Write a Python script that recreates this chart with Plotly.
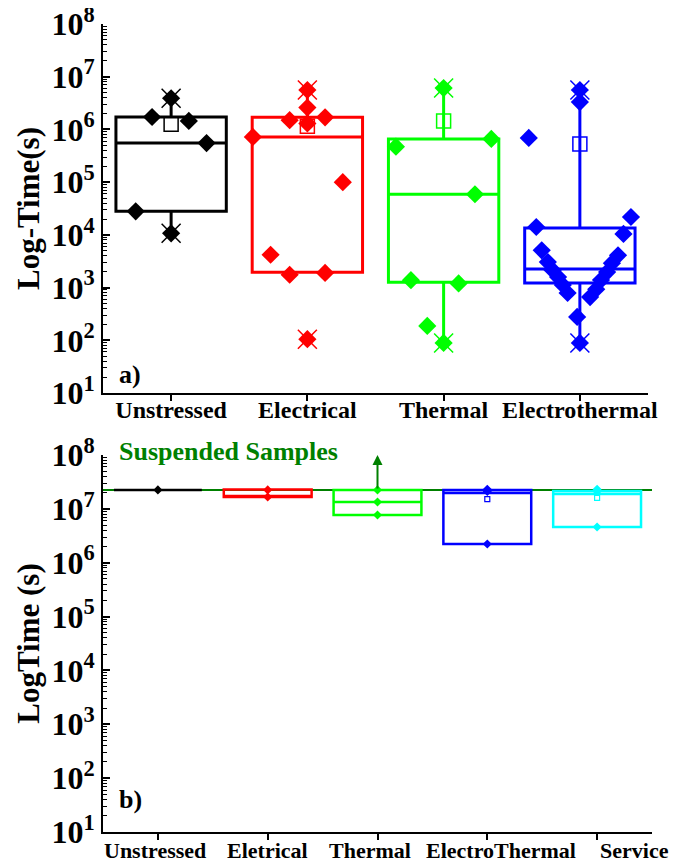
import math
import plotly.graph_objects as go

# ---------------- data: panel a) ----------------
TOP_CATEGORIES = ["Unstressed", "Electrical", "Thermal", "Electrothermal"]
TOP_COLORS = ["#000000", "#FF0000", "#00FF00", "#0000FF"]

unstressed_vals = [3.9e6, 1.72e6, 1.45e6, 5.5e5, 2.8e4, 1.07e4]
unstressed_offsets = [0, -0.14, 0.13, 0.26, -0.26, 0]

electrical_vals = [5.6e6, 2.6e6, 1.7e6, 1.5e6, 1.3e6, 7.2e5, 1.0e5, 4.2e3, 1.9e3, 1.75e3, 105]
electrical_offsets = [0, 0, 0.13, -0.13, 0, -0.40, 0.26, -0.27, 0.13, -0.13, 0]

thermal_vals = [6.1e6, 6.6e5, 4.7e5, 5.9e4, 1.38e3, 1.2e3, 187, 89]
thermal_offsets = [0, 0.35, -0.35, 0.23, -0.24, 0.11, -0.12, 0]

electrothermal_vals = [5.6e6, 3.3e6, 6.9e5, 2.18e4, 1.41e4, 1.04e4, 5.1e3,
                       3.05e3, 2.14e3, 1.58e3, 1.12e3, 7.9e2,
                       4.1e3, 2.9e3, 1.97e3, 1.39e3, 9.3e2, 6.6e2,
                       2.77e2, 89]
electrothermal_offsets = [0, 0, -0.375, 0.375, -0.32, 0.32, -0.28,
                          -0.235, -0.20, -0.16, -0.125, -0.09,
                          0.28, 0.235, 0.20, 0.155, 0.12, 0.075,
                          -0.02, 0]

top_q1 = [2.8e4, 1.95e3, 1.26e3, 1.22e3]
top_median = [5.5e5, 7.2e5, 5.9e4, 2.25e3]
top_q3 = [1.72e6, 1.7e6, 6.6e5, 1.35e4]
top_lower = [1.07e4, 1.95e3, 89, 89]
top_upper = [3.9e6, 5.6e6, 6.1e6, 5.6e6]
top_mean = [1.26e6, 1.15e6, 1.45e6, 5.3e5]
top_min = [1.07e4, 105, 89, 89]
top_max = [3.9e6, 5.6e6, 6.1e6, 5.6e6]

# ---------------- data: panel b) ----------------
BOTTOM_CATEGORIES = ["Unstressed", "Eletrical", "Thermal", "ElectroThermal", "Service"]
BOTTOM_COLORS = ["#000000", "#FF0000", "#00FF00", "#0000FF", "#00FFFF"]

bot_points = [
    [2.25e7],
    [2.25e7, 1.66e7],
    [2.25e7, 1.34e7, 7.7e6],
    [2.3e7, 2.1e7, 2.23e6],
    [2.3e7, 2.1e7, 4.6e6],
]
bot_q1 = [2.25e7, 1.66e7, 7.7e6, 2.23e6, 4.6e6]
bot_median = [2.25e7, 1.66e7, 1.34e7, 1.97e7, 1.89e7]
bot_q3 = [2.25e7, 2.28e7, 2.25e7, 2.24e7, 2.15e7]
bot_lower = [2.25e7, 1.66e7, 7.7e6, 2.23e6, 4.6e6]
bot_upper = [2.25e7, 2.28e7, 2.25e7, 2.3e7, 2.3e7]
bot_mean = [None, None, None, 1.52e7, 1.6e7]

SUSPENDED = 2.25e7
ARROW_TOP = 1e8

Y_EXPONENTS = [1, 2, 3, 4, 5, 6, 7, 8]
Y_TICKVALS = [10 ** e for e in Y_EXPONENTS]
Y_TICKTEXT = ["10<sup>%d</sup>" % e for e in Y_EXPONENTS]

# ---------------- styling ----------------
SERIF = "Liberation Serif"
BOTTOM_LABEL_XSHIFT = [-3, 0, -8, 14, 37]   # px, as the labels are staggered in the original

fig = go.Figure()

top_vals = [unstressed_vals, electrical_vals, thermal_vals, electrothermal_vals]
top_offs = [unstressed_offsets, electrical_offsets, thermal_offsets, electrothermal_offsets]

for i, cat in enumerate(TOP_CATEGORIES):
    pos = i + 1
    c = TOP_COLORS[i]
    fig.add_trace(go.Box(
        x=[pos], q1=[top_q1[i]], median=[top_median[i]], q3=[top_q3[i]],
        lowerfence=[top_lower[i]], upperfence=[top_upper[i]],
        width=0.81, whiskerwidth=0, boxpoints=False,
        line=dict(color=c, width=3), fillcolor="rgba(0,0,0,0)",
        xaxis="x", yaxis="y", showlegend=False, name=cat))
    fig.add_trace(go.Scatter(
        x=[pos + o for o in top_offs[i]], y=top_vals[i], mode="markers",
        marker=dict(symbol="diamond", size=14, color=c, line=dict(width=0)),
        xaxis="x", yaxis="y", showlegend=False, cliponaxis=False))
    fig.add_trace(go.Scatter(
        x=[pos, pos], y=[top_min[i], top_max[i]], mode="markers",
        marker=dict(symbol="x-thin-open", size=19, color=c, line=dict(width=1.5, color=c)),
        xaxis="x", yaxis="y", showlegend=False, cliponaxis=False))
    fig.add_trace(go.Scatter(
        x=[pos], y=[top_mean[i]], mode="markers",
        marker=dict(symbol="square-open", size=14, color=c, line=dict(width=1.5, color=c)),
        xaxis="x", yaxis="y", showlegend=False, cliponaxis=False))

for i, cat in enumerate(BOTTOM_CATEGORIES):
    pos = i + 1
    c = BOTTOM_COLORS[i]
    fig.add_trace(go.Box(
        x=[pos], q1=[bot_q1[i]], median=[bot_median[i]], q3=[bot_q3[i]],
        lowerfence=[bot_lower[i]], upperfence=[bot_upper[i]],
        width=0.8, whiskerwidth=0, boxpoints=False,
        line=dict(color=c, width=2.5), fillcolor="rgba(0,0,0,0)",
        xaxis="x2", yaxis="y2", showlegend=False, name=cat))
    fig.add_trace(go.Scatter(
        x=[pos] * len(bot_points[i]), y=bot_points[i], mode="markers",
        marker=dict(symbol="diamond", size=7, color=c, line=dict(width=0)),
        xaxis="x2", yaxis="y2", showlegend=False, cliponaxis=False))
    if bot_mean[i] is not None:
        fig.add_trace(go.Scatter(
            x=[pos], y=[bot_mean[i]], mode="markers",
            marker=dict(symbol="square-open", size=5, color=c, line=dict(width=1.2, color=c)),
            xaxis="x2", yaxis="y2", showlegend=False, cliponaxis=False))
    # category label under the axis (staggered like the original)
    fig.add_annotation(text=cat, xref="x2", yref="y2 domain", x=pos, y=0,
                       xshift=BOTTOM_LABEL_XSHIFT[i], yshift=-18,
                       xanchor="center", yanchor="middle", showarrow=False,
                       font=dict(family=SERIF, size=22, color="black", weight="bold"))

# suspended samples reference line
fig.add_shape(type="line", xref="x2 domain", x0=0, x1=1, yref="y2",
              y0=SUSPENDED, y1=SUSPENDED, line=dict(color="#008000", width=2), layer="below")

# arrow on thermal suspended sample
fig.add_annotation(x=3, y=math.log10(ARROW_TOP), ax=3, ay=math.log10(SUSPENDED),
                   xref="x2", yref="y2", axref="x2", ayref="y2", text="",
                   showarrow=True, arrowhead=2, arrowsize=1, arrowwidth=2,
                   arrowcolor="#008000")

fig.add_annotation(text="Suspended Samples", xref="x2 domain", yref="y2 domain",
                   x=0.026, y=1.008, xanchor="left", yanchor="middle", showarrow=False,
                   font=dict(family=SERIF, size=26, color="#008000", weight="bold"))
fig.add_annotation(text="a)", xref="x domain", yref="y domain", x=0.025, y=0.05,
                   xanchor="left", yanchor="middle", showarrow=False,
                   font=dict(family=SERIF, size=26, color="black", weight="bold"))
fig.add_annotation(text="b)", xref="x2 domain", yref="y2 domain", x=0.025, y=0.085,
                   xanchor="left", yanchor="middle", showarrow=False,
                   font=dict(family=SERIF, size=26, color="black", weight="bold"))

yaxis_common = dict(
    type="log", range=[1, 8], tickmode="array", tickvals=Y_TICKVALS, ticktext=Y_TICKTEXT,
    ticks="inside", ticklen=7, tickwidth=1.5, tickcolor="black",
    minor=dict(ticks="inside", ticklen=4, tickwidth=1, tickcolor="black", dtick="D1", showgrid=False),
    showline=True, linecolor="black", linewidth=2, showgrid=False, zeroline=False,
    automargin=False, ticklabeloverflow="allow",
    tickfont=dict(family=SERIF, size=32, color="black", weight="bold"),
    title_font=dict(family=SERIF, size=31, color="black", weight="bold"),
)

xaxis_common = dict(
    ticks="outside", ticklen=6, tickwidth=1.5, tickcolor="black", tickangle=0,
    showline=True, linecolor="black", linewidth=2, showgrid=False, zeroline=False,
    automargin=False, ticklabeloverflow="allow",
)

# the page body adds an 8 px offset, so margins are set 8 px smaller at top/left
fig.update_layout(
    width=682, height=862, plot_bgcolor="white", paper_bgcolor="white",
    margin=dict(l=95, r=38, t=16, b=38),
    boxmode="overlay",
    xaxis=dict(domain=[0, 0.9927], anchor="y", range=[0.5, 4.5],
               tickmode="array", tickvals=[1, 2, 3, 4], ticktext=TOP_CATEGORIES,
               ticklabelstandoff=-12,
               tickfont=dict(family=SERIF, size=24, color="black", weight="bold"),
               **xaxis_common),
    yaxis=dict(domain=[0.5433, 1], anchor="x", title=dict(text="Log-Time(s)", standoff=3),
               **yaxis_common),
    xaxis2=dict(domain=[0, 1], anchor="y2", range=[0.5, 5.5],
                tickmode="array", tickvals=[1, 2, 3, 4, 5], showticklabels=False,
                **xaxis_common),
    yaxis2=dict(domain=[0, 0.4666], anchor="x2", title=dict(text="LogTime (s)", standoff=3),
                **yaxis_common),
)

fig.write_html("out.html")
